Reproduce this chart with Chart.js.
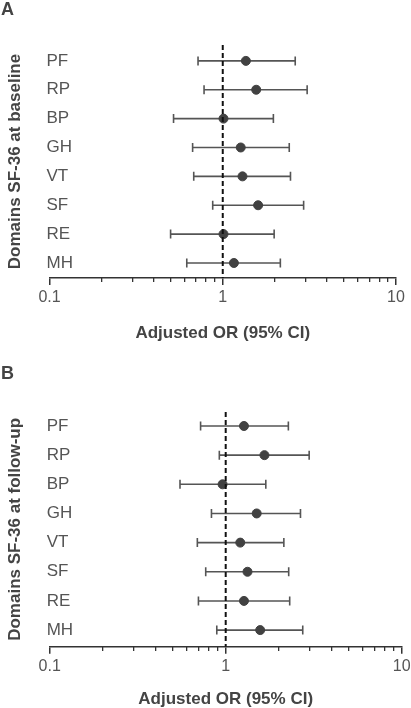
<!DOCTYPE html>
<html>
<head>
<meta charset="utf-8">
<script src="https://cdn.jsdelivr.net/npm/chart.js@4/dist/chart.umd.min.js"></script>
<style>
  body { margin: 0; background: #fff; width: 411px; height: 708px; position: relative; overflow: hidden; }
  .panel { position: absolute; left: 0; width: 411px; height: 354px; }
  .letter { position: absolute; left: 1px; font: bold 18px "Liberation Sans", Arial, sans-serif; line-height: 18px; color: #444; }
</style>
</head>
<body>
<div class="panel" style="top:0"><canvas id="chart-a" width="411" height="354"></canvas></div>
<div class="panel" style="top:354px"><canvas id="chart-b" width="411" height="354"></canvas></div>
<div class="letter" style="top:0">A</div>
<div class="letter" style="top:364px">B</div>
<script>
const domains = ["PF", "RP", "BP", "GH", "VT", "SF", "RE", "MH"];

// SF-36 at baseline (A)
const orBaseline   = [1.36, 1.56, 1.01, 1.27, 1.30, 1.60, 1.01, 1.16];
const lowBaseline  = [0.72, 0.78, 0.52, 0.67, 0.68, 0.875, 0.50, 0.62];
const highBaseline = [2.62, 3.07, 1.96, 2.42, 2.46, 2.93, 1.98, 2.15];

// SF-36 at follow-up (B)
const orFollow   = [1.27, 1.66, 0.96, 1.50, 1.21, 1.33, 1.27, 1.57];
const lowFollow  = [0.72, 0.92, 0.55, 0.83, 0.69, 0.77, 0.70, 0.89];
const highFollow = [2.27, 2.98, 1.69, 2.66, 2.14, 2.28, 2.31, 2.74];

const majorTicks = [0.1, 1, 10];
const minorTicks = [0.2, 0.3, 0.4, 0.5, 0.6, 0.7, 0.8, 0.9, 2, 3, 4, 5, 6, 7, 8, 9];
const refLine = 1;

const FONT = "'Liberation Sans', Arial, sans-serif";

function makeForest(canvasId, yTitle, or, low, high, lay) {
  const ctx = document.getElementById(canvasId);
  const datasets = [];

  // dashed line at OR = 1
  datasets.push({
    data: [{ x: refLine, y: lay.yMin }, { x: refLine, y: lay.yMax }],
    showLine: true,
    borderColor: '#111',
    borderWidth: 2,
    borderDash: [5, 3],
    pointRadius: 0,
    order: 0
  });

  // point estimates
  datasets.push({
    data: or.map((v, i) => ({ x: v, y: i + 1 })),
    backgroundColor: '#414141',
    borderColor: '#414141',
    pointRadius: 4.5,
    order: 1
  });

  // 95% CI whiskers, caps via rotated 'line' points
  domains.forEach((d, i) => {
    datasets.push({
      data: [{ x: low[i], y: i + 1 }, { x: high[i], y: i + 1 }],
      showLine: true,
      borderColor: '#555',
      borderWidth: 1.6,
      pointStyle: 'line',
      rotation: 90,
      pointRadius: 4.5,
      pointBorderColor: '#555',
      pointBorderWidth: 1.6,
      order: 2
    });
  });

  return new Chart(ctx, {
    type: 'scatter',
    data: { datasets: datasets },
    options: {
      responsive: false,
      animation: false,
      events: [],
      layout: { padding: { top: lay.top, right: lay.right, left: 0, bottom: 0 } },
      plugins: { legend: { display: false }, tooltip: { enabled: false } },
      scales: {
        x: {
          type: 'logarithmic',
          position: 'bottom',
          min: 0.1,
          max: 10,
          afterBuildTicks: (axis) => { axis.ticks = majorTicks.map(v => ({ value: v })); },
          afterFit: (axis) => { axis.paddingRight = 0; },
          ticks: {
            color: '#555',
            font: { family: FONT, size: 16 },
            padding: 3,
            maxRotation: 0,
            callback: (v) => String(v)
          },
          grid: { drawOnChartArea: false, tickLength: 7, color: '#333', lineWidth: 1.5 },
          border: { color: '#333', width: 1.5 },
          title: {
            display: true,
            text: 'Adjusted OR (95% CI)',
            color: '#444',
            font: { family: FONT, size: 17, weight: 'bold', lineHeight: 1 },
            padding: { top: lay.xTitleTop, bottom: lay.xTitleBottom }
          }
        },
        // minor log ticks (shorter), drawn on the same baseline
        xMinor: {
          type: 'logarithmic',
          axis: 'x',
          position: { y: lay.yMax },
          min: 0.1,
          max: 10,
          afterBuildTicks: (axis) => { axis.ticks = minorTicks.map(v => ({ value: v })); },
          ticks: { display: false },
          grid: { drawOnChartArea: false, tickLength: 4, color: '#333', lineWidth: 1.3 },
          border: { display: false }
        },
        y: {
          type: 'linear',
          position: 'left',
          reverse: true,
          min: lay.yMin,
          max: lay.yMax,
          afterBuildTicks: (axis) => { axis.ticks = domains.map((d, i) => ({ value: i + 1 })); },
          ticks: {
            mirror: true,
            padding: -3,
            color: '#555',
            font: { family: FONT, size: 17 },
            callback: (v) => domains[v - 1]
          },
          grid: { display: false, drawTicks: false },
          border: { display: false },
          title: {
            display: true,
            text: yTitle,
            color: '#444',
            font: { family: FONT, size: 17, weight: 'bold', lineHeight: 1 },
            padding: { top: 7, bottom: lay.yTitleBottom }
          }
        }
      }
    }
  });
}

makeForest('chart-a', 'Domains SF-36 at baseline', orBaseline, lowBaseline, highBaseline,
  { top: 45, right: 15, yMin: 0.45, yMax: 8.52, xTitleTop: 14.3, xTitleBottom: 12.5, yTitleBottom: 31.5 });

makeForest('chart-b', 'Domains SF-36 at follow-up', orFollow, lowFollow, highFollow,
  { top: 58, right: 9.3, yMin: 0.52, yMax: 8.57, xTitleTop: 12.1, xTitleBottom: 0, yTitleBottom: 31.7 });
</script>
</body>
</html>
